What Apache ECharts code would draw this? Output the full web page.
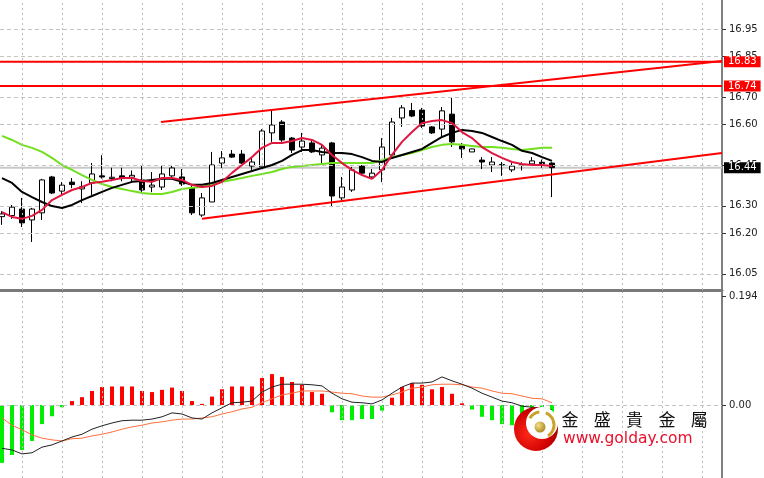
<!DOCTYPE html>
<html><head><meta charset="utf-8">
<script src="https://cdn.jsdelivr.net/npm/echarts@6/dist/echarts.min.js"></script>
<style>html,body{margin:0;padding:0;background:#fff}#c{width:764px;height:478px}</style>
</head><body><div id="c"></div>
<script>
const openP = [16.26,16.264,16.288,16.248,16.274,16.406,16.354,16.387,16.362,16.384,
16.410,16.400,16.410,16.405,16.395,16.369,16.369,16.410,16.406,16.365,
16.266,16.314,16.457,16.490,16.490,16.446,16.443,16.568,16.608,16.549,
16.516,16.531,16.487,16.531,16.329,16.358,16.446,16.406,16.432,16.487,
16.623,16.650,16.652,16.590,16.582,16.637,16.520,16.498,16.468,16.450,
16.450,16.432,16.450,16.454,16.460,16.457];
const closeP = [16.27,16.295,16.237,16.288,16.395,16.347,16.376,16.378,16.370,16.417,
16.406,16.405,16.400,16.412,16.358,16.376,16.417,16.439,16.380,16.274,
16.329,16.450,16.476,16.479,16.457,16.461,16.575,16.597,16.542,16.505,
16.538,16.498,16.512,16.336,16.369,16.432,16.420,16.420,16.516,16.608,
16.660,16.630,16.593,16.568,16.649,16.535,16.509,16.509,16.461,16.461,
16.452,16.446,16.452,16.465,16.455,16.440];
const lowP = [16.23,16.252,16.222,16.167,16.248,16.343,16.340,16.365,16.310,16.340,
16.400,16.390,16.390,16.385,16.350,16.350,16.358,16.402,16.373,16.266,
16.259,16.314,16.439,16.476,16.454,16.432,16.439,16.535,16.535,16.494,
16.498,16.494,16.457,16.296,16.321,16.351,16.413,16.402,16.387,16.479,
16.590,16.626,16.586,16.564,16.553,16.516,16.476,16.498,16.435,16.424,
16.410,16.424,16.430,16.450,16.440,16.332];
const highP = [16.28,16.303,16.329,16.292,16.399,16.410,16.387,16.402,16.390,16.457,
16.486,16.440,16.440,16.430,16.450,16.424,16.450,16.450,16.435,16.373,
16.347,16.498,16.501,16.505,16.505,16.476,16.582,16.652,16.615,16.553,
16.568,16.542,16.524,16.535,16.406,16.443,16.450,16.435,16.549,16.623,
16.670,16.678,16.660,16.593,16.663,16.700,16.531,16.509,16.479,16.479,
16.461,16.457,16.460,16.479,16.470,16.460];
const maFast = [16.277,16.259,16.252,16.263,16.285,16.321,16.340,16.358,16.369,16.384,
16.388,16.395,16.402,16.402,16.391,16.388,16.402,16.402,16.395,16.377,
16.369,16.373,16.388,16.421,16.450,16.479,16.513,16.531,16.531,16.538,
16.549,16.542,16.524,16.487,16.457,16.432,16.413,16.399,16.432,16.487,
16.535,16.571,16.604,16.612,16.615,16.604,16.571,16.549,16.516,16.494,
16.476,16.461,16.454,16.450,16.450,16.446];
const maMid = [16.402,16.384,16.351,16.332,16.314,16.299,16.292,16.303,16.321,16.336,
16.351,16.366,16.377,16.388,16.391,16.395,16.399,16.399,16.388,16.377,
16.377,16.384,16.395,16.406,16.417,16.428,16.439,16.450,16.465,16.487,
16.505,16.505,16.498,16.494,16.494,16.490,16.479,16.465,16.461,16.476,
16.487,16.498,16.509,16.531,16.553,16.568,16.579,16.575,16.568,16.553,
16.538,16.524,16.502,16.494,16.479,16.465];
const maSlow = [16.557,16.542,16.524,16.513,16.498,16.476,16.450,16.432,16.413,16.395,
16.380,16.369,16.362,16.354,16.347,16.343,16.343,16.351,16.362,16.366,
16.369,16.377,16.388,16.395,16.402,16.410,16.417,16.424,16.435,16.443,
16.446,16.450,16.454,16.457,16.457,16.457,16.457,16.457,16.468,16.479,
16.487,16.494,16.505,16.516,16.524,16.527,16.524,16.520,16.516,16.516,
16.513,16.509,16.505,16.509,16.513,16.513];
const macdHist = [-0.103,-0.089,-0.080,-0.064,-0.034,-0.020,-0.004,0.007,0.014,0.025,
0.032,0.033,0.033,0.033,0.025,0.023,0.027,0.031,0.025,0.007,
0.002,0.015,0.028,0.033,0.033,0.033,0.048,0.055,0.050,0.041,
0.036,0.023,0.020,-0.013,-0.027,-0.027,-0.025,-0.025,-0.010,0.013,
0.032,0.039,0.036,0.028,0.032,0.020,0.003,-0.008,-0.021,-0.027,
-0.034,-0.036,-0.039,-0.040,-0.036,-0.030];
const macdLine = [-0.077,-0.080,-0.087,-0.085,-0.075,-0.071,-0.064,-0.057,-0.052,-0.043,
-0.037,-0.032,-0.028,-0.027,-0.027,-0.025,-0.021,-0.014,-0.016,-0.023,
-0.025,-0.014,-0.005,0.004,0.005,0.007,0.023,0.032,0.037,0.037,
0.037,0.036,0.034,0.021,0.011,0.005,0.004,0.002,0.009,0.021,
0.032,0.039,0.039,0.041,0.050,0.043,0.037,0.030,0.021,0.014,
0.007,0.004,-0.002,-0.004,-0.005,-0.009];
const signalLine = [-0.023,-0.036,-0.044,-0.053,-0.059,-0.062,-0.064,-0.060,-0.059,-0.055,
-0.052,-0.048,-0.043,-0.039,-0.036,-0.032,-0.030,-0.027,-0.025,-0.025,
-0.023,-0.021,-0.016,-0.012,-0.007,-0.004,0.004,0.011,0.018,0.021,
0.025,0.025,0.025,0.023,0.021,0.020,0.016,0.014,0.014,0.018,
0.023,0.030,0.032,0.036,0.037,0.037,0.036,0.032,0.030,0.025,
0.021,0.020,0.016,0.012,0.011,0.004];
const priceTicks = [16.95, 16.85, 16.70, 16.60, 16.45, 16.30, 16.20, 16.05];
const macdTicks = [0.194, 0];
const vGridAt = [2,6,10,14,18,22,26,30,34,38,42,46,50,54,58,62,66,70];
const upperTrend = [[15.9, 16.608], [72, 16.832]];
const lowerTrend = [[20, 16.252], [72, 16.494]];
const resistLevels = [16.83, 16.74];
const lastPrice = 16.44;

const FONT = 'DejaVu Sans';
const chart = echarts.init(document.getElementById('c'), null, {renderer: 'canvas'});
const idx = (arr) => arr.map((v, i) => [i, v]);
const candles = openP.map((o, i) => [i, o, closeP[i], lowP[i], highP[i]]);
const X0 = -0.2, X1 = 72;

const gridLineMarks = (yVals, xVals, yType) => ({
  silent: true, symbol: ['none', 'none'], animation: false,
  label: {show: false},
  data: [
    ...yVals.map(v => ({yAxis: v, lineStyle: {type: yType, color: '#c4c4c4', width: 1}})),
    ...xVals.map(v => ({xAxis: v, lineStyle: {type: [2, 3], color: '#bdbdbd', width: 1}}))
  ]
});

const levelLabel = (txt, bg) => ({
  show: true, position: 'end', formatter: txt, distance: 2,
  backgroundColor: bg, color: '#fff', fontFamily: FONT, fontSize: 10,
  padding: [1, 4, 0, 4], opacity: 1
});
const levelMark = (v, bg) => ({
  silent: true, symbol: ['none', 'none'],
  lineStyle: {color: 'rgba(0,0,0,0)', width: 0.1},
  data: [{yAxis: v, label: levelLabel(v.toFixed(2), bg)}]
});

const option = {
  animation: false,
  backgroundColor: '#fff',
  grid: [
    {left: 0, right: 42, top: 0, height: 290},
    {left: 0, right: 42, top: 292, bottom: 0}
  ],
  xAxis: [
    {gridIndex: 0, type: 'value', min: X0, max: X1,
     axisLine: {show: true, onZero: false, lineStyle: {color: '#7a7a7a', width: 3}},
     axisTick: {show: false}, axisLabel: {show: false}, splitLine: {show: false}},
    {gridIndex: 1, type: 'value', min: X0, max: X1,
     axisLine: {show: false, onZero: false}, axisTick: {show: false}, axisLabel: {show: false}, splitLine: {show: false}}
  ],
  yAxis: [
    {gridIndex: 0, type: 'value', position: 'right', min: 15.9904, max: 17.0566, scale: true,
     axisLine: {show: true, onZero: false, lineStyle: {color: '#555', width: 1.5}},
     axisTick: {show: true, length: 4, customValues: priceTicks, lineStyle: {color: '#333'}},
     axisLabel: {show: true, customValues: priceTicks, formatter: v => v.toFixed(2), color: '#222',
                 fontFamily: FONT, fontSize: 10, margin: 7},
     splitLine: {show: false}},
    {gridIndex: 1, type: 'value', position: 'right', min: -0.1299, max: 0.2011, scale: true,
     axisLine: {show: true, onZero: false, lineStyle: {color: '#555', width: 1.5}},
     axisTick: {show: true, length: 4, customValues: macdTicks, lineStyle: {color: '#333'}},
     axisLabel: {show: true, customValues: macdTicks, formatter: v => (v === 0 ? '0.00' : v.toFixed(3)),
                 color: '#222', fontFamily: FONT, fontSize: 10, margin: 7},
     splitLine: {show: false}}
  ],
  series: [
    {type: 'line', xAxisIndex: 0, yAxisIndex: 0, z: 0, silent: true, symbol: 'none',
     data: [[X0, 16.5], [X1, 16.5]], lineStyle: {opacity: 0},
     markLine: gridLineMarks(priceTicks, vGridAt, [4, 3])},
    {type: 'line', xAxisIndex: 1, yAxisIndex: 1, z: 0, silent: true, symbol: 'none',
     data: [[X0, 0], [X1, 0]], lineStyle: {opacity: 0},
     markLine: gridLineMarks([0], vGridAt, [4, 3])},
    {type: 'line', xAxisIndex: 0, yAxisIndex: 0, z: 1, silent: true, symbol: 'none',
     data: [[X0, lastPrice], [X1, lastPrice]], lineStyle: {color: '#c8c8c8', width: 2},
     markLine: levelMark(lastPrice, '#000000')},
    {type: 'candlestick', xAxisIndex: 0, yAxisIndex: 0, z: 3, barWidth: 6, data: candles,
     itemStyle: {color: '#ffffff', color0: '#000000', borderColor: '#000000', borderColor0: '#000000', borderWidth: 1}},
    {type: 'line', xAxisIndex: 0, yAxisIndex: 0, z: 4, symbol: 'none', data: idx(maSlow),
     lineStyle: {color: '#72e01e', width: 2}},
    {type: 'line', xAxisIndex: 0, yAxisIndex: 0, z: 5, symbol: 'none', data: idx(maMid),
     lineStyle: {color: '#000000', width: 2}},
    {type: 'line', xAxisIndex: 0, yAxisIndex: 0, z: 6, symbol: 'none', data: idx(maFast),
     lineStyle: {color: '#e0163f', width: 2}},
    {type: 'line', xAxisIndex: 0, yAxisIndex: 0, z: 7, symbol: 'none', data: upperTrend,
     lineStyle: {color: '#ff0000', width: 2}},
    {type: 'line', xAxisIndex: 0, yAxisIndex: 0, z: 7, symbol: 'none', data: lowerTrend,
     lineStyle: {color: '#ff0000', width: 2}},
    {type: 'line', xAxisIndex: 0, yAxisIndex: 0, z: 7, symbol: 'none',
     data: [[X0, resistLevels[0]], [X1, resistLevels[0]]], lineStyle: {color: '#ff0000', width: 2},
     markLine: levelMark(resistLevels[0], '#ff0000')},
    {type: 'line', xAxisIndex: 0, yAxisIndex: 0, z: 7, symbol: 'none',
     data: [[X0, resistLevels[1]], [X1, resistLevels[1]]], lineStyle: {color: '#ff0000', width: 2},
     markLine: levelMark(resistLevels[1], '#ff0000')},
    {type: 'bar', xAxisIndex: 1, yAxisIndex: 1, z: 3, barWidth: 4, data: idx(macdHist),
     itemStyle: {color: p => (p.value[1] >= 0 ? '#ff0000' : '#00ee00')}},
    {type: 'line', xAxisIndex: 1, yAxisIndex: 1, z: 4, symbol: 'none', data: idx(signalLine),
     lineStyle: {color: '#ff7040', width: 1}},
    {type: 'line', xAxisIndex: 1, yAxisIndex: 1, z: 5, symbol: 'none', data: idx(macdLine),
     lineStyle: {color: '#222222', width: 1}}
  ],
  graphic: [
    {type: 'circle', z: 100, shape: {cx: 536, cy: 429, r: 22},
     style: {fill: new echarts.graphic.RadialGradient(0.35, 0.6, 0.8,
       [{offset: 0, color: '#ff2a1a'}, {offset: 0.6, color: '#d00000'}, {offset: 1, color: '#7a0000'}])}},
    {type: 'circle', z: 101, shape: {cx: 542, cy: 423, r: 16}, style: {fill: '#ffffff'}},
    {type: 'arc', z: 102, shape: {cx: 541, cy: 425, r: 13, startAngle: -1.2, endAngle: 1.0},
     style: {stroke: '#c9a227', lineWidth: 3, fill: null}},
    {type: 'arc', z: 102, shape: {cx: 541, cy: 425, r: 13, startAngle: -2.6, endAngle: -1.7},
     style: {stroke: '#c9a227', lineWidth: 3, fill: null}},
    {type: 'circle', z: 103, shape: {cx: 540, cy: 427, r: 5.5},
     style: {fill: new echarts.graphic.RadialGradient(0.35, 0.35, 0.8,
       [{offset: 0, color: '#f5e08a'}, {offset: 1, color: '#a07c10'}])}},
    ...['金', '盛', '貴', '金', '屬'].map((ch, k) => ({
      type: 'text', z: 104, x: 570 + k * 32.3, y: 420,
      style: {text: ch, fill: '#111', font: '17px "Noto Sans CJK TC"', textAlign: 'center', textVerticalAlign: 'middle'}
    })),
    {type: 'text', z: 104, x: 563, y: 439,
     style: {text: 'www.golday.com', fill: '#e8102a', font: '15.5px "DejaVu Sans"', textAlign: 'left', textVerticalAlign: 'middle'}}
  ]
};
chart.setOption(option);
</script></body></html>
